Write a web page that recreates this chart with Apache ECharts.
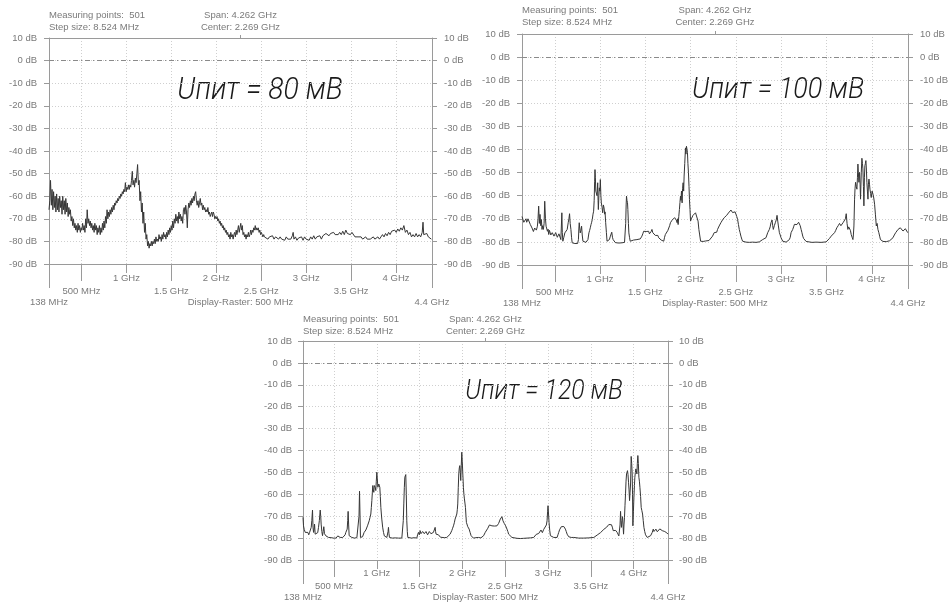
<!DOCTYPE html>
<html>
<head>
<meta charset="utf-8">
<script src="https://cdn.jsdelivr.net/npm/echarts@6.0.0/dist/echarts.min.js"></script>
<style>
html,body{margin:0;padding:0;background:#fff;}
#chart{width:952px;height:604px;}
</style>
</head>
<body>
<div id="chart"></div>
<script>
// ---------------- data ----------------
const panelTitles = ['Uпит = 80 мВ', 'Uпит = 100 мВ', 'Uпит = 120 мВ'];
const headerLeft = ['Measuring points:  501', 'Step size: 8.524 MHz'];
const headerCenter = ['Span: 4.262 GHz', 'Center: 2.269 GHz'];
const rasterLabel = 'Display-Raster: 500 MHz';
const freqStart = 138, freqStop = 4400, freqCenter = 2269;
const gridFreqs = [500, 1000, 1500, 2000, 2500, 3000, 3500, 4000];
const majorTickFreqs = [1000, 2000, 3000, 4000];
const minorTickFreqs = [500, 1500, 2500, 3500];
const edgeTickFreqs = [138, 4400];
const levelMin = -90, levelMax = 10, levelStep = 10;

// [frequency MHz, level dB]
const trace80 = [[138,-66],[147,-62],[155,-53],[164,-64],[172,-57],[181,-66],[189,-58],[198,-65],[206,-60],[215,-67],[223,-59],[232,-66],[240,-61],[249,-67],[257,-60],[266,-65],[274,-62],[283,-68],[291,-60],[300,-66],[308,-62],[317,-68],[325,-61],[334,-67],[342,-63],[351,-69],[359,-65],[368,-68],[376,-66],[385,-71],[393,-69],[402,-73],[410,-70],[419,-74],[427,-72],[436,-75],[444,-73],[453,-76],[461,-72],[470,-75],[478,-73],[487,-76],[495,-74],[504,-75],[512,-72],[521,-75],[529,-73],[538,-76],[546,-70],[555,-74],[563,-66],[572,-72],[580,-70],[589,-73],[597,-71],[606,-74],[614,-72],[623,-75],[631,-73],[640,-76],[648,-72],[657,-75],[665,-73],[674,-77],[682,-74],[691,-76],[699,-73],[708,-77],[716,-74],[725,-76],[733,-72],[742,-75],[750,-71],[759,-74],[767,-69],[776,-72],[784,-66],[793,-70],[801,-67],[810,-69],[818,-66],[827,-68],[835,-65],[844,-67],[852,-64],[861,-66],[869,-63],[878,-64],[886,-62],[895,-63],[903,-61],[912,-62],[920,-60],[929,-61],[937,-59],[946,-60],[954,-58],[963,-59],[971,-57],[980,-58],[988,-54],[997,-58],[1005,-56],[1014,-57],[1022,-55],[1031,-57],[1039,-55],[1048,-56],[1056,-53],[1065,-49],[1073,-55],[1082,-53],[1090,-56],[1099,-52],[1107,-54],[1116,-50],[1124,-46],[1133,-55],[1141,-53],[1150,-62],[1158,-58],[1167,-67],[1175,-63],[1184,-72],[1192,-67],[1201,-76],[1209,-72],[1218,-79],[1226,-77],[1235,-82],[1243,-80],[1252,-83],[1260,-81],[1269,-82],[1277,-80],[1286,-82],[1294,-80],[1303,-81],[1311,-79],[1320,-81],[1328,-78],[1337,-80],[1345,-79],[1354,-80],[1362,-77],[1371,-79],[1379,-78],[1388,-80],[1396,-77],[1405,-79],[1413,-76],[1422,-78],[1430,-77],[1439,-79],[1447,-76],[1456,-78],[1464,-75],[1473,-77],[1481,-74],[1490,-76],[1498,-73],[1507,-75],[1515,-71],[1524,-74],[1532,-70],[1541,-72],[1549,-68],[1558,-71],[1566,-69],[1575,-72],[1583,-67],[1592,-70],[1600,-68],[1609,-71],[1617,-69],[1626,-72],[1634,-66],[1643,-65],[1651,-68],[1660,-64],[1668,-67],[1677,-74],[1685,-66],[1694,-63],[1702,-65],[1711,-62],[1719,-64],[1728,-61],[1736,-63],[1745,-60],[1753,-62],[1762,-59],[1770,-58],[1779,-62],[1787,-64],[1796,-62],[1804,-65],[1813,-63],[1821,-61],[1830,-64],[1838,-63],[1847,-66],[1855,-64],[1864,-66],[1872,-65],[1881,-67],[1889,-66],[1898,-67],[1906,-65],[1915,-68],[1923,-67],[1932,-69],[1940,-68],[1949,-67],[1957,-69],[1966,-67],[1974,-68],[1983,-70],[1991,-69],[2000,-70],[2008,-69],[2017,-71],[2025,-70],[2034,-72],[2042,-71],[2051,-73],[2059,-72],[2068,-74],[2076,-73],[2085,-75],[2093,-74],[2102,-76],[2110,-75],[2119,-77],[2127,-76],[2136,-78],[2144,-77],[2153,-79],[2161,-76],[2170,-78],[2178,-77],[2187,-79],[2195,-77],[2204,-76],[2212,-78],[2221,-75],[2229,-77],[2238,-75],[2246,-73],[2255,-76],[2263,-74],[2272,-72],[2280,-75],[2289,-73],[2297,-77],[2306,-76],[2314,-78],[2323,-77],[2331,-79],[2340,-77],[2348,-78],[2357,-76],[2365,-78],[2374,-77],[2382,-75],[2391,-77],[2399,-75],[2408,-76],[2416,-74],[2425,-75],[2433,-73],[2442,-75],[2450,-74],[2459,-75],[2467,-74],[2476,-76],[2484,-75],[2493,-77],[2501,-76],[2510,-77],[2518,-78],[2527,-77],[2535,-78],[2544,-78],[2557,-78],[2574,-79],[2591,-78],[2608,-78.5],[2625,-77.5],[2642,-79],[2659,-78],[2676,-78.5],[2693,-79],[2710,-78],[2727,-79],[2744,-78.5],[2761,-79.5],[2778,-78],[2795,-79],[2812,-78.5],[2829,-79],[2846,-77.5],[2855,-76],[2864,-79],[2880,-78],[2897,-79.5],[2914,-78.5],[2931,-79],[2948,-78],[2965,-79.5],[2982,-78],[2999,-79],[3016,-78.5],[3033,-79.5],[3050,-78],[3067,-79],[3084,-77.5],[3101,-79],[3118,-78],[3135,-78.5],[3152,-77.5],[3169,-79],[3186,-77.5],[3203,-78],[3220,-76.5],[3237,-76],[3254,-77.5],[3271,-76.5],[3288,-77],[3305,-76],[3322,-77],[3339,-76.5],[3356,-77],[3373,-76],[3390,-77],[3407,-75.5],[3424,-77],[3441,-75],[3458,-76.5],[3475,-76],[3492,-77],[3509,-76],[3526,-76.5],[3543,-78],[3560,-78.5],[3577,-78],[3594,-78.5],[3611,-78],[3628,-79],[3645,-78.5],[3662,-78],[3679,-79],[3696,-78.5],[3713,-79],[3730,-79],[3747,-78],[3764,-79],[3781,-78.5],[3798,-78],[3815,-79],[3832,-78],[3849,-77],[3866,-78],[3883,-76.5],[3900,-77.5],[3917,-76],[3934,-77],[3951,-75.5],[3968,-76],[3985,-75],[4002,-76],[4019,-74.5],[4036,-75.5],[4053,-74],[4070,-75],[4087,-73],[4104,-76],[4121,-75],[4138,-77],[4155,-76],[4172,-78],[4189,-77],[4206,-78],[4223,-76.5],[4240,-78],[4257,-77],[4274,-78],[4291,-76],[4300,-71.5],[4308,-77],[4325,-77.5],[4342,-76.5],[4359,-78],[4376,-78.5],[4393,-79],[4400,-79]];

const trace100 = [[138,-69],[149,-69.6],[158,-71.5],[167,-71],[175,-72],[182,-70],[190,-71.5],[197,-71.5],[204,-70],[211,-70.6],[222,-70.6],[230,-72.5],[241,-73.2],[249,-74],[256,-74.6],[264,-75.5],[271,-76.1],[278,-74],[285,-73.9],[297,-74.9],[308,-73.2],[315,-70],[322,-64.5],[330,-72],[337,-68.1],[345,-73],[352,-70.3],[359,-74.6],[366,-73],[374,-74.6],[382,-72],[389,-62.4],[397,-70],[404,-73.2],[412,-74],[419,-75.4],[426,-74.5],[433,-76.8],[441,-75],[448,-75.8],[456,-77],[463,-76.8],[472,-76],[482,-76.1],[491,-77.5],[500,-77.5],[510,-76],[519,-76.8],[528,-78],[537,-77.8],[546,-76.5],[556,-77.2],[567,-79],[572,-74],[578,-67.4],[583,-76],[589,-79.7],[600,-78],[611,-76.1],[624,-75.5],[637,-74.6],[648,-71.7],[656,-70],[663,-67.8],[670,-72],[678,-74.6],[685,-78],[692,-80.4],[707,-80.5],[722,-80.7],[737,-80.5],[752,-80.7],[761,-79],[766,-74],[770,-71.7],[775,-74],[781,-76.1],[788,-75],[796,-73.2],[803,-77],[811,-79.7],[822,-80.3],[833,-80.4],[844,-80.2],[855,-80.4],[866,-79],[877,-76.1],[885,-75],[892,-73.9],[900,-72.5],[907,-71.5],[914,-70.3],[922,-68],[929,-66.7],[935,-62],[940,-54],[944,-48.7],[948,-52],[953,-58],[959,-57.3],[966,-60],[974,-54.4],[978,-62],[981,-66],[987,-60],[992,-56.6],[998,-58],[1003,-53],[1009,-60],[1014,-63.1],[1022,-65],[1029,-67.4],[1037,-64],[1044,-65.3],[1051,-68],[1055,-67],[1062,-71.7],[1070,-76],[1077,-79.7],[1085,-80],[1092,-80.4],[1103,-79],[1114,-77.5],[1122,-77],[1129,-75.8],[1137,-78],[1144,-79],[1151,-79.7],[1168,-80.3],[1185,-80.4],[1204,-80.5],[1222,-80.6],[1241,-80.4],[1259,-80.4],[1270,-80.2],[1277,-80],[1283,-72],[1288,-64],[1292,-60.2],[1297,-62],[1303,-63],[1307,-66],[1313,-72],[1318,-76.1],[1325,-78],[1333,-79.7],[1351,-79.5],[1370,-79.2],[1388,-79.3],[1407,-79],[1425,-78.9],[1444,-78.7],[1453,-78],[1462,-77.5],[1472,-76.5],[1481,-75.4],[1490,-75.8],[1499,-74.6],[1509,-75.5],[1518,-76.1],[1527,-75],[1536,-75.4],[1545,-76.5],[1555,-76.8],[1564,-75.5],[1573,-74.6],[1582,-76],[1592,-76.1],[1601,-75.8],[1610,-77.2],[1620,-76.8],[1629,-77.7],[1638,-77.2],[1647,-78.2],[1656,-78],[1666,-78.9],[1675,-79.2],[1684,-79.7],[1694,-79.5],[1703,-79.7],[1712,-78],[1721,-76.8],[1731,-76.5],[1740,-76.1],[1749,-75],[1758,-74.6],[1768,-73],[1777,-71.7],[1786,-72],[1795,-70.6],[1805,-71.2],[1814,-70.3],[1823,-69.5],[1832,-68.9],[1841,-70.5],[1851,-71.7],[1856,-70],[1862,-72.5],[1869,-69],[1876,-66],[1882,-63],[1888,-60.2],[1893,-62],[1899,-58],[1906,-63.1],[1911,-57],[1917,-54.4],[1923,-58],[1928,-51.5],[1935,-46],[1943,-39.3],[1948,-42],[1954,-38.6],[1960,-40],[1965,-41.4],[1970,-46],[1976,-50.1],[1982,-56],[1987,-61.6],[1993,-66],[1999,-71],[2008,-70],[2017,-69.6],[2026,-68.5],[2036,-68.1],[2045,-67.8],[2054,-67.4],[2064,-68],[2073,-68.1],[2082,-71],[2091,-74.6],[2100,-77],[2110,-79.7],[2119,-79.5],[2128,-79],[2138,-79.8],[2147,-80.4],[2165,-79.6],[2184,-79.2],[2203,-79.4],[2221,-79],[2242,-77.5],[2251,-77],[2260,-76],[2270,-76.5],[2279,-75.3],[2288,-75.8],[2297,-74.6],[2306,-74],[2315,-73.1],[2325,-72.5],[2334,-71.7],[2343,-71.5],[2352,-70.5],[2362,-70],[2371,-69.5],[2380,-70],[2389,-69.5],[2398,-68.5],[2408,-68],[2417,-67.5],[2426,-67],[2436,-67.2],[2445,-66.2],[2454,-66.5],[2463,-67.3],[2473,-66.5],[2482,-66.6],[2491,-67],[2500,-68],[2509,-69],[2518,-70.2],[2528,-72.5],[2537,-74.6],[2546,-76],[2555,-77.5],[2565,-78.8],[2574,-79.7],[2592,-80],[2611,-80.1],[2648,-80.2],[2685,-80.1],[2722,-80.2],[2758,-80],[2777,-79.6],[2795,-79],[2814,-78.8],[2832,-78.2],[2841,-77.5],[2851,-76],[2860,-75.5],[2869,-74.6],[2878,-73.5],[2887,-71.7],[2893,-72.5],[2899,-70.5],[2906,-73],[2913,-74.6],[2924,-73],[2935,-71.7],[2945,-70.5],[2954,-68.5],[2962,-71],[2969,-73.1],[2980,-76],[2989,-77],[2998,-78.2],[3008,-79],[3017,-79.7],[3035,-80],[3054,-80.1],[3072,-79.8],[3090,-79],[3100,-78],[3109,-76],[3118,-75.5],[3127,-74.6],[3137,-73.5],[3146,-72.4],[3155,-72],[3164,-71.7],[3174,-72.5],[3183,-72.4],[3192,-71.5],[3201,-71],[3210,-73],[3220,-74.6],[3229,-76],[3238,-77.5],[3247,-78.5],[3256,-79.2],[3275,-79.8],[3293,-80],[3340,-80.2],[3386,-80.1],[3440,-80.2],[3496,-80],[3515,-79.2],[3533,-78.5],[3552,-77.5],[3570,-77],[3589,-76],[3602,-75],[3614,-73.9],[3629,-73],[3644,-72],[3659,-73],[3673,-72.4],[3686,-71.5],[3699,-71],[3709,-70],[3718,-67.8],[3727,-72],[3736,-74.6],[3745,-73.5],[3755,-73.1],[3764,-75],[3773,-76.8],[3783,-78],[3792,-79],[3797,-77],[3803,-73.1],[3810,-61.5],[3815,-57],[3821,-54.2],[3829,-56],[3836,-57.2],[3842,-52],[3847,-46.3],[3852,-50],[3858,-54.2],[3865,-49.9],[3871,-55],[3876,-61.5],[3884,-50],[3891,-43.8],[3897,-46],[3902,-48.4],[3908,-56],[3913,-64.4],[3919,-52],[3924,-47],[3930,-46],[3935,-44.8],[3940,-48],[3946,-54.2],[3952,-58],[3958,-61.5],[3963,-55],[3969,-52.8],[3975,-55],[3980,-57.2],[3987,-59],[3994,-60.8],[4004,-58],[4013,-59.3],[4022,-61],[4031,-63.7],[4040,-68],[4050,-73.1],[4059,-72],[4068,-74.6],[4078,-76],[4087,-77.5],[4096,-79],[4105,-79.7],[4124,-79.8],[4142,-79.7],[4160,-79.9],[4179,-79.6],[4197,-79.5],[4216,-79],[4234,-78.2],[4249,-77],[4264,-76],[4277,-75.5],[4290,-74.6],[4302,-75],[4315,-73.9],[4330,-74.5],[4345,-75.3],[4358,-74.8],[4371,-74.3],[4384,-75],[4397,-76],[4400,-76]];

const trace120 = [[138,-70.5],[144,-74.4],[152,-76],[164,-77.4],[175,-77],[186,-78],[195,-77.4],[205,-78.5],[214,-77.5],[222,-78.2],[228,-77],[234,-75.1],[241,-72],[249,-67.2],[255,-75],[261,-77.4],[267,-76],[273,-73.6],[280,-78.2],[290,-78.5],[300,-78.9],[310,-77.5],[319,-75.1],[329,-72],[339,-67.2],[345,-70],[350,-73.6],[358,-77],[366,-78.9],[373,-77],[381,-74.8],[389,-78],[397,-78.9],[406,-79],[416,-79.4],[426,-79.2],[436,-79.7],[446,-79.6],[456,-80],[466,-79.8],[475,-80],[485,-79.7],[495,-80],[504,-79.6],[514,-79.7],[524,-80],[534,-79.5],[544,-79],[553,-78.5],[563,-79.5],[572,-79.7],[582,-79.8],[592,-80],[602,-79.7],[611,-79.7],[621,-79],[630,-78.5],[638,-77.4],[646,-76.5],[654,-75.9],[660,-72],[665,-67.8],[671,-74],[677,-78.9],[687,-79.5],[698,-79.8],[708,-79.7],[718,-80],[728,-79.8],[737,-80],[747,-79.7],[757,-79.9],[767,-79.8],[778,-79.5],[786,-79.4],[792,-70],[798,-58.6],[804,-70],[809,-79.7],[821,-79.6],[833,-79.4],[843,-78.5],[852,-77.4],[862,-77],[872,-76.3],[882,-75.5],[891,-74.4],[901,-73.5],[911,-72.1],[921,-70.5],[930,-69],[936,-66],[942,-62.9],[948,-59],[953,-56],[959,-58],[965,-59.1],[971,-56],[977,-55.3],[983,-57],[988,-58.3],[994,-54],[1000,-49.9],[1006,-53],[1012,-56.8],[1018,-56],[1023,-55.3],[1029,-55.5],[1035,-56.8],[1041,-61],[1047,-66],[1053,-69],[1058,-71.3],[1068,-75],[1078,-77.4],[1088,-79],[1097,-79.7],[1107,-79.6],[1117,-79.7],[1126,-79.2],[1131,-77],[1136,-75.1],[1142,-78],[1148,-79.7],[1164,-79.9],[1180,-80],[1195,-80],[1214,-79.9],[1233,-80],[1253,-80],[1272,-79.9],[1292,-80],[1303,-79.4],[1309,-72],[1315,-64.4],[1321,-57],[1327,-52.2],[1332,-53],[1338,-51],[1344,-60],[1350,-72.1],[1356,-77],[1362,-79.7],[1385,-79.8],[1408,-80],[1437,-79.8],[1467,-80],[1476,-78.5],[1486,-77.4],[1496,-78.5],[1506,-76.6],[1515,-78],[1525,-77.9],[1535,-77],[1545,-76.6],[1554,-78],[1564,-78.5],[1574,-77],[1584,-76.6],[1593,-78.5],[1603,-78.2],[1613,-77],[1622,-76.9],[1632,-78],[1642,-78.9],[1651,-77.5],[1661,-77.4],[1671,-77],[1681,-75.1],[1686,-77],[1692,-78.2],[1702,-77.5],[1712,-77.4],[1720,-78.5],[1727,-79.4],[1743,-79.6],[1759,-79.7],[1788,-79.8],[1817,-79.7],[1837,-79.2],[1856,-78.2],[1866,-77.5],[1875,-76.6],[1885,-75.5],[1895,-74.4],[1905,-73],[1914,-71.3],[1924,-70.5],[1934,-69],[1940,-67],[1945,-64.4],[1951,-57],[1957,-50.7],[1963,-48],[1969,-46.9],[1975,-50],[1980,-53.7],[1986,-47],[1992,-40.8],[1998,-45],[2004,-50.7],[2008,-54],[2011,-56.8],[2017,-60],[2023,-62.1],[2029,-64],[2035,-66],[2041,-70],[2046,-72.8],[2054,-73.5],[2062,-74.8],[2070,-75.5],[2078,-75.9],[2090,-77.5],[2101,-78.9],[2114,-79.5],[2128,-80],[2157,-79.8],[2186,-79.7],[2215,-79.9],[2247,-78.9],[2257,-78],[2266,-77.4],[2276,-77],[2286,-76.6],[2296,-75.5],[2305,-74.8],[2315,-74],[2325,-73.3],[2335,-74],[2344,-74.4],[2354,-73.5],[2364,-75.1],[2374,-74.5],[2383,-73.9],[2393,-74.8],[2403,-74.4],[2413,-73.5],[2422,-73.3],[2432,-72.5],[2442,-71.3],[2452,-71],[2461,-70.2],[2467,-71],[2473,-72.1],[2481,-72.5],[2488,-73.3],[2496,-74],[2504,-74.4],[2512,-75],[2520,-75.9],[2530,-77],[2539,-78.2],[2549,-78.8],[2559,-79.1],[2578,-79.7],[2598,-80],[2637,-80.1],[2676,-80.2],[2715,-80.1],[2754,-80],[2793,-79.9],[2832,-79.7],[2841,-79.3],[2851,-78.9],[2861,-78.3],[2870,-78],[2880,-78.5],[2890,-77.9],[2900,-77],[2909,-77.5],[2917,-76.3],[2925,-77],[2933,-77.5],[2941,-76.9],[2949,-76],[2960,-75.1],[2966,-76],[2972,-75.9],[2980,-74],[2988,-72.1],[2994,-68],[2999,-65.2],[3005,-69],[3011,-72.8],[3019,-76.5],[3027,-78.9],[3046,-79.5],[3066,-79.7],[3085,-79.8],[3105,-79.7],[3115,-78.5],[3124,-77.4],[3134,-76.2],[3144,-75.4],[3154,-74.8],[3163,-74.5],[3173,-74.6],[3183,-74.7],[3192,-75.2],[3202,-75.9],[3212,-77],[3222,-78.2],[3231,-79],[3241,-79.4],[3270,-79.7],[3300,-79.7],[3358,-80],[3417,-80],[3476,-79.9],[3534,-79.7],[3553,-78.9],[3573,-78.6],[3592,-78.2],[3612,-77.5],[3631,-76.6],[3651,-76],[3670,-75.4],[3684,-75],[3697,-74.4],[3709,-73.8],[3721,-73.3],[3731,-73.5],[3740,-73.9],[3750,-75],[3760,-76.6],[3770,-77],[3779,-77.4],[3789,-76.5],[3799,-76.6],[3808,-77.5],[3818,-78.2],[3826,-79],[3834,-79.4],[3840,-74],[3846,-67.8],[3851,-72],[3857,-75.1],[3863,-72],[3869,-70.2],[3875,-74],[3881,-78.2],[3886,-74],[3892,-70.5],[3898,-65],[3904,-59.8],[3910,-54],[3916,-50.7],[3921,-51],[3927,-49.2],[3933,-51],[3939,-54.5],[3945,-58],[3951,-62.9],[3957,-59],[3963,-55.3],[3970,-42.7],[3976,-46],[3982,-50.7],[3986,-60],[3990,-74.4],[3996,-68],[4002,-61.4],[4008,-56],[4013,-52.2],[4019,-50],[4025,-48.4],[4031,-49],[4037,-50.7],[4042,-46],[4048,-42.3],[4054,-46],[4060,-52.2],[4066,-54],[4072,-56.8],[4080,-61],[4087,-66],[4095,-67.5],[4103,-69],[4111,-72],[4119,-75.1],[4128,-77],[4138,-78.5],[4148,-79.3],[4158,-79.7],[4177,-79.5],[4197,-78.9],[4207,-78],[4216,-77.4],[4222,-76.5],[4228,-75.9],[4236,-77],[4243,-76.9],[4251,-76.3],[4259,-75.9],[4267,-76.8],[4275,-77.1],[4285,-76.5],[4294,-76.2],[4304,-75.8],[4314,-75.4],[4324,-76],[4333,-76.6],[4343,-77],[4353,-77.4],[4362,-77],[4372,-76.9],[4386,-77.6],[4400,-78.2]];

const traces = [trace80, trace100, trace120];

// ---------------- layout / style ----------------
const layout = [
  {left:49, top:38, width:383, height:226, head:[49,15], titleAt:[260,91], titleSize:31.5, m:[9,22,33], topM:5, yM:12},
  {left:522, top:34, width:386, height:231, head:[522,10], titleAt:[778,90], titleSize:30, m:[9,22,33], topM:6, yM:12},
  {left:303, top:341, width:365, height:219, head:[303,319], titleAt:[544,392], titleSize:27.5, m:[8,21,32], topM:4, yM:11}
];
const axisColor = '#9a9a9a';
const gridColor = '#cfcfcf';
const textColor = '#7a7a7a';
const fontFamily = '"Liberation Sans", Arial, sans-serif';
const fontSize = 9.5;
const labelStyle = {color:textColor, fontSize:fontSize, fontFamily:fontFamily};

function fmtFreq(v){
  if (v === freqCenter) return rasterLabel;
  return v < 1000 ? v + ' MHz' : (v/1000) + ' GHz';
}

const grids = [], xAxes = [], yAxes = [], series = [], graphics = [];
layout.forEach((p, i) => {
  grids.push({left:p.left, top:p.top, width:p.width, height:p.height});
  const base = {type:'value', gridIndex:i, min:freqStart, max:freqStop,
    axisLine:{show:false, onZero:false}, axisTick:{show:false}, axisLabel:{show:false}, splitLine:{show:false}};
  xAxes.push(Object.assign({}, base, {position:'bottom',
    axisLine:{show:true, onZero:false, lineStyle:{color:axisColor, width:1}},
    axisTick:{show:false, customValues:gridFreqs},
    splitLine:{show:true, lineStyle:{color:gridColor, type:[1,2], width:1}}}));
  xAxes.push(Object.assign({}, base, {position:'bottom',
    axisTick:{show:true, customValues:majorTickFreqs, length:9, lineStyle:{color:axisColor}},
    axisLabel:Object.assign({show:true, customValues:majorTickFreqs, margin:p.m[0], formatter:fmtFreq}, labelStyle)}));
  xAxes.push(Object.assign({}, base, {position:'bottom',
    axisTick:{show:true, customValues:minorTickFreqs, length:17, lineStyle:{color:axisColor}},
    axisLabel:Object.assign({show:true, customValues:minorTickFreqs, margin:p.m[1], formatter:fmtFreq}, labelStyle)}));
  xAxes.push(Object.assign({}, base, {position:'bottom',
    axisTick:{show:true, customValues:edgeTickFreqs, length:24, lineStyle:{color:axisColor}},
    axisLabel:Object.assign({show:true, customValues:[freqStart, freqCenter, freqStop], margin:p.m[2], formatter:fmtFreq}, labelStyle)}));
  xAxes.push(Object.assign({}, base, {position:'top',
    axisLine:{show:true, onZero:false, lineStyle:{color:axisColor, width:1}},
    axisTick:{show:true, customValues:[freqCenter], length:3, lineStyle:{color:axisColor}},
    axisLabel:Object.assign({show:true, customValues:[freqCenter], margin:p.topM, lineHeight:12,
      formatter:() => headerCenter.join('\n')}, labelStyle)}));
  const yBase = {type:'value', gridIndex:i, min:levelMin, max:levelMax, interval:levelStep,
    axisLine:{show:true, onZero:false, lineStyle:{color:axisColor, width:1}},
    axisTick:{show:true, length:5, lineStyle:{color:axisColor}},
    axisLabel:Object.assign({margin:p.yM, formatter:'{value} dB'}, labelStyle)};
  yAxes.push(Object.assign({}, yBase, {position:'left',
    splitLine:{show:true, lineStyle:{color:gridColor, type:[1,2], width:1}}}));
  yAxes.push(Object.assign({}, yBase, {position:'right', splitLine:{show:false}}));
  series.push({type:'line', xAxisIndex:i*5, yAxisIndex:i*2, data:traces[i],
    showSymbol:false, symbol:'none', animation:false,
    lineStyle:{color:'#363636', width:1},
    markLine:{silent:true, symbol:'none', animation:false, label:{show:false},
      lineStyle:{color:'#8a8a8a', type:[5,3,1,3], width:1}, data:[{yAxis:0}]}});
  const font = fontSize + 'px ' + fontFamily;
  headerLeft.forEach((t, k) => {
    graphics.push({type:'text', x:p.head[0], y:p.head[1] + k*12, silent:true,
      style:{text:t, fill:textColor, font:font, textVerticalAlign:'middle', verticalAlign:'middle'}});
  });
  graphics.push({type:'text', x:p.titleAt[0], y:p.titleAt[1], scaleX:0.9, silent:true,
    style:{text:panelTitles[i], fill:'#1a1a1a',
      font:'italic 300 ' + p.titleSize + 'px Roboto, "DejaVu Sans", sans-serif',
      textAlign:'center', align:'center', textVerticalAlign:'middle', verticalAlign:'middle'}});
});

const chart = echarts.init(document.getElementById('chart'), null, {renderer:'canvas'});
chart.setOption({
  backgroundColor:'#ffffff',
  animation:false,
  grid:grids,
  xAxis:xAxes,
  yAxis:yAxes,
  series:series,
  graphic:graphics
});
</script>
</body>
</html>
